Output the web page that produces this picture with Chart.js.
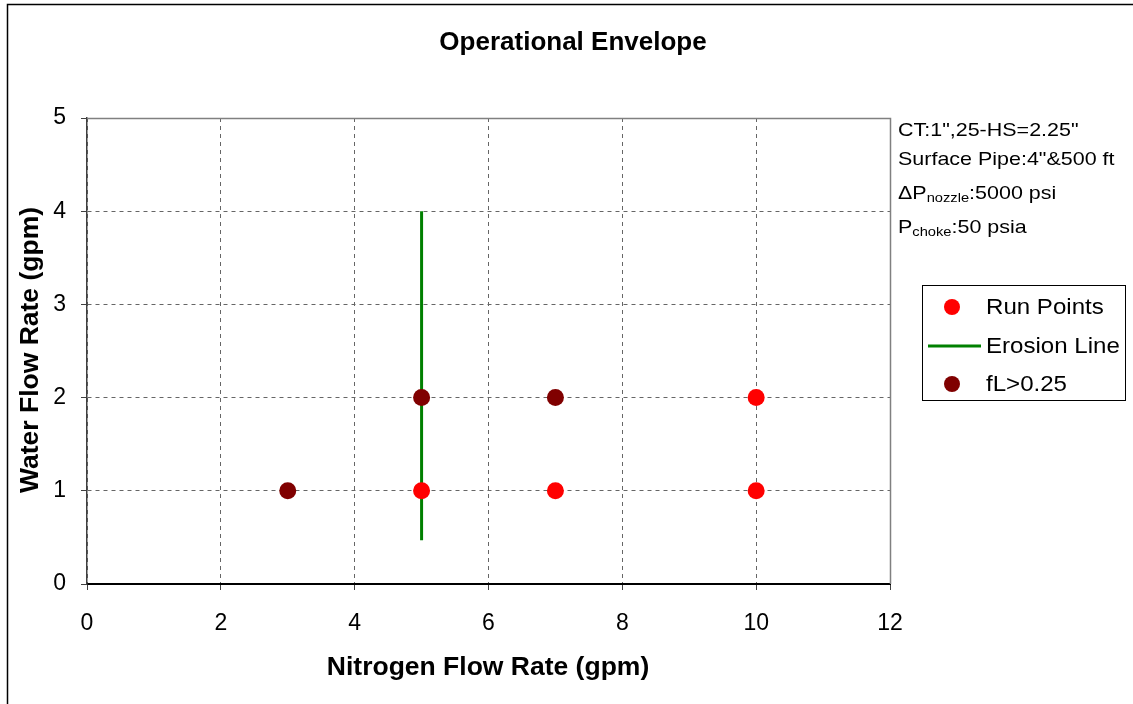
<!DOCTYPE html>
<html>
<head>
<meta charset="utf-8">
<script src="https://cdn.jsdelivr.net/npm/chart.js@4/dist/chart.umd.min.js"></script>
<style>
  html, body { margin: 0; padding: 0; background: #fff; }
  #wrap { width: 1133px; height: 704px; }
</style>
</head>
<body>
<div id="wrap"><canvas id="c" width="1133" height="704"></canvas></div>
<script>
// ---- data ----
const chartTitle = 'Operational Envelope';
const xAxisTitle = 'Nitrogen Flow Rate (gpm)';
const yAxisTitle = 'Water Flow Rate (gpm)';
const xTickValues = [0, 2, 4, 6, 8, 10, 12];
const yTickValues = [0, 1, 2, 3, 4, 5];
const runPointsX = [5, 7, 10, 10];
const runPointsY = [1, 1, 1, 2];
const erosionX = [5, 5];
const erosionY = [0.47, 4];
const flX = [3, 5, 7];
const flY = [1, 2, 2];
const seriesNames = ['Run Points', 'Erosion Line', 'fL>0.25'];
const noteLines = [
  [['CT:1",25-HS=2.25"', false]],
  [['Surface Pipe:4"&500 ft', false]],
  [['\u0394P', false], ['nozzle', true], [':5000 psi', false]],
  [['P', false], ['choke', true], [':50 psia', false]]
];

const toPts = (xs, ys) => xs.map((x, i) => ({ x: x, y: ys[i] }));
const FONT = '"Liberation Sans", Arial, sans-serif';

function stretchedText(ctx, txt, x, y, sx) {
  ctx.save();
  ctx.translate(x, y);
  ctx.scale(sx, 1);
  ctx.fillText(txt, 0, 0);
  ctx.restore();
  return ctx.measureText(txt).width * sx;
}

const decor = {
  id: 'decor',
  beforeDraw(chart) {
    const ctx = chart.ctx;
    ctx.save();
    ctx.fillStyle = '#fff';
    ctx.fillRect(0, 0, chart.width, chart.height);
    ctx.strokeStyle = '#000';
    ctx.lineWidth = 1.5;
    ctx.beginPath();
    ctx.moveTo(7.5, chart.height + 5);
    ctx.lineTo(7.5, 4.5);
    ctx.lineTo(chart.width + 5, 4.5);
    ctx.stroke();
    ctx.restore();
  },
  beforeDatasetsDraw(chart) {
    const ctx = chart.ctx, a = chart.chartArea;
    ctx.save();
    ctx.strokeStyle = '#808080';
    ctx.lineWidth = 1.5;
    ctx.beginPath();
    ctx.moveTo(a.left, a.top + 0.5);
    ctx.lineTo(a.right + 0.5, a.top + 0.5);
    ctx.lineTo(a.right + 0.5, a.bottom);
    ctx.stroke();
    ctx.restore();
  },
  afterDraw(chart) {
    const ctx = chart.ctx;
    ctx.save();
    ctx.fillStyle = '#000';
    ctx.font = 'bold 26px ' + FONT;
    ctx.textAlign = 'center';
    ctx.textBaseline = 'middle';
    ctx.fillText(chartTitle, 573, 43);
    ctx.font = 'bold 26.5px ' + FONT;
    ctx.fillText(xAxisTitle, 488, 668);
    ctx.save();
    ctx.translate(31, 350);
    ctx.rotate(-Math.PI / 2);
    ctx.fillText(yAxisTitle, 0, 0);
    ctx.restore();
    // notes
    ctx.textAlign = 'left';
    ctx.textBaseline = 'alphabetic';
    const noteY = [136, 165, 199, 233];
    noteLines.forEach((parts, i) => {
      let x = 898;
      parts.forEach(([txt, sub]) => {
        ctx.font = (sub ? '13px ' : '19px ') + FONT;
        x += stretchedText(ctx, txt, x, noteY[i] + (sub ? 3 : 0), 1.13);
      });
    });
    // legend
    ctx.strokeStyle = '#000';
    ctx.lineWidth = 1;
    ctx.strokeRect(922.5, 285.5, 203, 115);
    const ds = chart.data.datasets;
    const rows = [307, 346, 384];
    ctx.font = '22.5px ' + FONT;
    ctx.textBaseline = 'middle';
    ds.forEach((d, i) => {
      const y = rows[i];
      if (d.showLine) {
        ctx.strokeStyle = d.borderColor;
        ctx.lineWidth = d.borderWidth;
        ctx.beginPath();
        ctx.moveTo(928, y);
        ctx.lineTo(981, y);
        ctx.stroke();
      } else {
        ctx.fillStyle = d.pointBackgroundColor;
        ctx.beginPath();
        ctx.arc(952, y, 8, 0, Math.PI * 2);
        ctx.fill();
      }
      ctx.fillStyle = '#000';
      stretchedText(ctx, d.label, 986, y + 1, 1.07);
    });
    ctx.restore();
  }
};

new Chart(document.getElementById('c'), {
  type: 'scatter',
  data: {
    datasets: [
      {
        label: seriesNames[0],
        data: toPts(runPointsX, runPointsY),
        pointRadius: 8.5,
        pointHoverRadius: 8.5,
        pointBackgroundColor: '#ff0000',
        pointBorderColor: '#ff0000',
        pointBorderWidth: 0,
        showLine: false,
        order: 1
      },
      {
        label: seriesNames[1],
        data: toPts(erosionX, erosionY),
        showLine: true,
        borderColor: '#008000',
        borderWidth: 3,
        pointRadius: 0,
        order: 3
      },
      {
        label: seriesNames[2],
        data: toPts(flX, flY),
        pointRadius: 8.5,
        pointHoverRadius: 8.5,
        pointBackgroundColor: '#800000',
        pointBorderColor: '#800000',
        pointBorderWidth: 0,
        showLine: false,
        order: 0
      }
    ]
  },
  options: {
    responsive: false,
    animation: false,
    events: [],
    layout: { padding: { left: 0, top: 118, right: 243, bottom: 0 } },
    plugins: { legend: { display: false }, title: { display: false }, tooltip: { enabled: false } },
    scales: {
      x: {
        type: 'linear',
        min: xTickValues[0],
        max: xTickValues[xTickValues.length - 1],
        afterBuildTicks: s => { s.ticks = xTickValues.map(v => ({ value: v })); },
        afterFit: s => { s.height = 120; },
        grid: { color: '#666', lineWidth: 1, drawTicks: true, tickLength: 6, tickColor: '#404040', tickWidth: 1 },
        border: { display: true, color: '#000', width: 2, dash: [4, 4] },
        ticks: { color: '#000', font: { family: FONT, size: 23 }, padding: 20, maxRotation: 0 }
      },
      y: {
        type: 'linear',
        min: yTickValues[0],
        max: yTickValues[yTickValues.length - 1],
        afterBuildTicks: s => { s.ticks = yTickValues.map(v => ({ value: v })); },
        afterFit: s => { s.width = 87; },
        grid: { color: '#666', lineWidth: 1, drawTicks: true, tickLength: 6, tickColor: '#404040', tickWidth: 1 },
        border: { display: true, color: '#404040', width: 1.5, dash: [4, 4] },
        ticks: { color: '#000', font: { family: FONT, size: 23 }, padding: 15 }
      }
    }
  },
  plugins: [decor]
});
</script>
</body>
</html>
